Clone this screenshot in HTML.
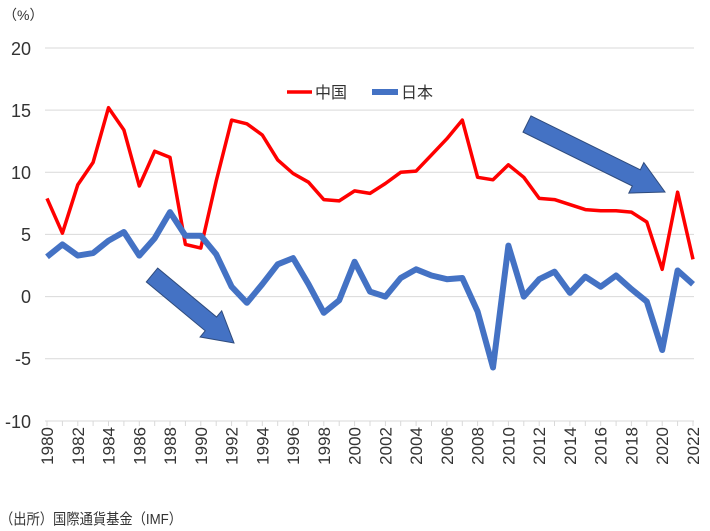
<!DOCTYPE html>
<html><head><meta charset="utf-8"><style>
body{margin:0;background:#fff}
svg{display:block;font-family:"Liberation Sans","Noto Sans CJK JP",sans-serif}
</style></head><body>
<svg id="c" width="710" height="531" viewBox="0 0 710 531">
<g stroke="#d9d9d9" stroke-width="1">
<line x1="45" x2="694" y1="48" y2="48"/><line x1="45" x2="694" y1="110.1" y2="110.1"/>
<line x1="45" x2="694" y1="172.3" y2="172.3"/><line x1="45" x2="694" y1="234.4" y2="234.4"/>
<line x1="45" x2="694" y1="296.6" y2="296.6"/><line x1="45" x2="694" y1="358.7" y2="358.7"/>
<line x1="45" x2="694" y1="421" y2="421"/>
</g>
<g id="ticks" stroke="#d9d9d9"></g>
<g font-size="18" fill="#333" text-anchor="end">
<text x="31" y="55">20</text><text x="31" y="117">15</text><text x="31" y="179">10</text>
<text x="31" y="241">5</text><text x="31" y="303">0</text><text x="31" y="365">-5</text><text x="31" y="428">-10</text>
</g>
<text x="3" y="20" font-size="14" fill="#333">（%）</text>
<g id="yrs" font-size="17" fill="#333" text-anchor="end">
<text transform="translate(53,427) rotate(-90)">1980</text>
<text transform="translate(83.8,427) rotate(-90)">1982</text>
<text transform="translate(114.5,427) rotate(-90)">1984</text>
<text transform="translate(145.3,427) rotate(-90)">1986</text>
<text transform="translate(176,427) rotate(-90)">1988</text>
<text transform="translate(206.8,427) rotate(-90)">1990</text>
<text transform="translate(237.6,427) rotate(-90)">1992</text>
<text transform="translate(268.3,427) rotate(-90)">1994</text>
<text transform="translate(299.1,427) rotate(-90)">1996</text>
<text transform="translate(329.9,427) rotate(-90)">1998</text>
<text transform="translate(360.6,427) rotate(-90)">2000</text>
<text transform="translate(391.4,427) rotate(-90)">2002</text>
<text transform="translate(422.1,427) rotate(-90)">2004</text>
<text transform="translate(452.9,427) rotate(-90)">2006</text>
<text transform="translate(483.7,427) rotate(-90)">2008</text>
<text transform="translate(514.4,427) rotate(-90)">2010</text>
<text transform="translate(545.2,427) rotate(-90)">2012</text>
<text transform="translate(576,427) rotate(-90)">2014</text>
<text transform="translate(606.7,427) rotate(-90)">2016</text>
<text transform="translate(637.5,427) rotate(-90)">2018</text>
<text transform="translate(668.2,427) rotate(-90)">2020</text>
<text transform="translate(699,427) rotate(-90)">2022</text>
</g>
<polyline id="cn" fill="none" stroke="#ff0000" stroke-width="3.5" stroke-linejoin="round"/>
<polyline id="jp" fill="none" stroke="#4472c4" stroke-width="6" stroke-linejoin="round"/>
<line x1="287" x2="312" y1="92" y2="92" stroke="#ff0000" stroke-width="3.5"/>
<text x="315" y="98" font-size="16" fill="#333">中国</text>
<line x1="372" x2="398" y1="92" y2="92" stroke="#4472c4" stroke-width="6"/>
<text x="401" y="98" font-size="16" fill="#333">日本</text>
<polygon points="146.3,281.9 157.7,268.1 216.6,317 221.7,310.8 234,343 200.1,337 205.2,330.8" fill="#4472c4" stroke="#2f4b7c" stroke-width="1"/>
<polygon points="523,132.1 531,115.9 640.3,169.8 643.8,162.6 665,192 628.8,193.1 632.3,186" fill="#4472c4" stroke="#2f4b7c" stroke-width="1"/>
<text x="0" y="524" font-size="15" fill="#333" textLength="182" lengthAdjust="spacingAndGlyphs">（出所）国際通貨基金（IMF）</text>
</svg>
<script>
var cn=[7.9,5.1,9.0,10.8,15.2,13.4,8.9,11.7,11.2,4.2,3.9,9.3,14.2,13.9,13.0,11.0,9.9,9.2,7.8,7.7,8.5,8.3,9.1,10.0,10.1,11.4,12.7,14.2,9.6,9.4,10.6,9.6,7.9,7.8,7.4,7.0,6.9,6.9,6.8,6.0,2.2,8.4,3.0];
var jp=[3.2,4.2,3.3,3.5,4.5,5.2,3.3,4.7,6.8,4.9,4.9,3.4,0.8,-0.5,1.0,2.6,3.1,1.0,-1.3,-0.3,2.8,0.4,0.0,1.5,2.2,1.7,1.4,1.5,-1.2,-5.7,4.1,0.0,1.4,2.0,0.3,1.6,0.8,1.7,0.6,-0.4,-4.3,2.1,1.0];
function X(i){return 47+15.38*i}function Y(v){return 296.6-12.43*v}
function pts(a){return a.map(function(v,i){return X(i).toFixed(1)+","+Y(v).toFixed(1)}).join(" ")}
document.getElementById("cn").setAttribute("points",pts(cn));
document.getElementById("jp").setAttribute("points",pts(jp));
var t="";for(var i=0;i<=42;i++){var x=X(i).toFixed(1);t+='<line x1="'+x+'" x2="'+x+'" y1="421" y2="426"/>';}
document.getElementById("ticks").innerHTML=t;
</script>
</body></html>
